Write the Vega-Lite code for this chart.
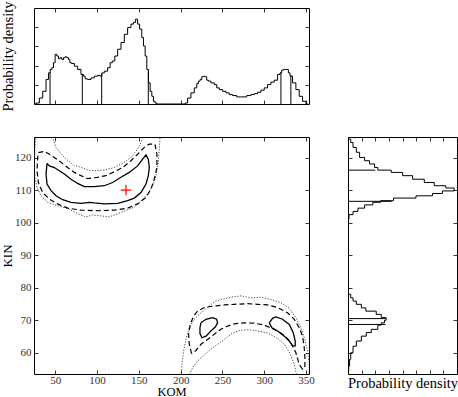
{
  "$schema": "https://vega.github.io/schema/vega-lite/v6.json",
  "padding": {"left": 0, "top": 0, "right": 1, "bottom": 0},
  "columns": 2,
  "bounds": "flush",
  "align": "each",
  "spacing": {"row": 33, "column": 39},
  "datasets": {
    "top": [
      {"x":24.9,"y":0},{"x":28.9,"y":0.05},{"x":32.9,"y":0.31},{"x":36.9,"y":0.66},{"x":40.9,"y":1.28},{"x":42.9,"y":1.62},{"x":44.9,"y":1.80},{"x":46.8,"y":1.89},{"x":48.8,"y":2.15},{"x":50.8,"y":2.59},{"x":52.8,"y":2.50},{"x":54.8,"y":2.36},{"x":56.8,"y":2.41},{"x":58.8,"y":2.32},{"x":60.8,"y":2.41},{"x":62.8,"y":2.46},{"x":64.8,"y":2.41},{"x":66.8,"y":2.32},{"x":68.0,"y":2.15},{"x":70.8,"y":2.11},{"x":74.8,"y":1.97},{"x":78.7,"y":1.80},{"x":82.7,"y":1.54},{"x":84.7,"y":1.45},{"x":86.7,"y":1.31},{"x":90.7,"y":1.28},{"x":94.7,"y":1.36},{"x":98.7,"y":1.45},{"x":102.7,"y":1.49},{"x":104.7,"y":1.45},{"x":106.7,"y":1.62},{"x":110.6,"y":1.71},{"x":114.6,"y":1.89},{"x":116.6,"y":2.15},{"x":119.8,"y":2.24},{"x":122.6,"y":2.50},{"x":126.6,"y":2.85},{"x":130.6,"y":3.20},{"x":134.6,"y":3.63},{"x":138.5,"y":3.98},{"x":142.5,"y":4.16},{"x":144.5,"y":4.25},{"x":147.7,"y":4.42},{"x":149.3,"y":4.16},{"x":152.5,"y":3.90},{"x":154.5,"y":3.46},{"x":156.5,"y":3.02},{"x":158.5,"y":2.50},{"x":160.5,"y":1.80},{"x":162.5,"y":1.10},{"x":164.5,"y":0.66},{"x":166.5,"y":0.40},{"x":168.4,"y":0.14},{"x":170.4,"y":0.05},{"x":172.4,"y":0},
      {"x":204.3,"y":0},{"x":206.3,"y":0.05},{"x":210.3,"y":0.31},{"x":214.3,"y":0.58},{"x":218.3,"y":0.84},{"x":220.3,"y":1.07},{"x":222.3,"y":1.19},{"x":224.3,"y":1.28},{"x":226.3,"y":1.42},{"x":228.3,"y":1.45},{"x":230.2,"y":1.42},{"x":232.2,"y":1.24},{"x":234.2,"y":1.19},{"x":238.2,"y":1.10},{"x":242.2,"y":1.01},{"x":244.2,"y":0.84},{"x":248.2,"y":0.75},{"x":252.2,"y":0.66},{"x":256.2,"y":0.58},{"x":260.1,"y":0.49},{"x":264.1,"y":0.44},{"x":270.1,"y":0.37},{"x":276.1,"y":0.37},{"x":282.1,"y":0.44},{"x":286.1,"y":0.49},{"x":290.0,"y":0.54},{"x":294.0,"y":0.61},{"x":298.0,"y":0.72},{"x":302.0,"y":0.84},{"x":306.0,"y":1.01},{"x":310.0,"y":1.14},{"x":314.0,"y":1.24},{"x":318.0,"y":1.54},{"x":319.9,"y":1.62},{"x":321.9,"y":1.76},{"x":323.9,"y":1.80},{"x":327.9,"y":1.80},{"x":329.9,"y":1.62},{"x":331.9,"y":1.45},{"x":335.9,"y":1.10},{"x":339.9,"y":0.75},{"x":343.9,"y":0.40},{"x":347.9,"y":0.14},{"x":351.9,"y":0.02}
    ],
    "topRules": [
      {"x":43.7,"y":1.65,"base":0},{"x":82.3,"y":1.54,"base":0},{"x":105.5,"y":1.55,"base":0},{"x":161.3,"y":1.75,"base":0},{"x":320.0,"y":1.65,"base":0},{"x":331.9,"y":1.5,"base":0}
    ],
    "right": [
      {"kin":126.4,"d":0.0},{"kin":125.75,"d":0.05},{"kin":124.7,"d":0.2},{"kin":123.2,"d":0.37},{"kin":121.7,"d":0.61},{"kin":120.1,"d":0.85},{"kin":119.1,"d":1.22},{"kin":118.1,"d":1.58},{"kin":117.0,"d":1.95},{"kin":116.2,"d":2.19},{"kin":115.5,"d":3.17},{"kin":114.5,"d":4.01},{"kin":113.4,"d":4.74},{"kin":112.4,"d":5.60},{"kin":111.4,"d":6.33},{"kin":110.7,"d":7.18},{"kin":109.8,"d":7.79},{"kin":109.0,"d":6.93},{"kin":108.3,"d":6.2},{"kin":107.6,"d":4.99},{"kin":106.8,"d":3.34},{"kin":106.3,"d":2.39},{"kin":105.5,"d":1.82},{"kin":104.5,"d":1.22},{"kin":103.5,"d":0.73},{"kin":102.5,"d":0.37},{"kin":101.1,"d":0.07},{"kin":100.1,"d":0},
      {"kin":78.0,"d":0},{"kin":76.9,"d":0.2},{"kin":75.9,"d":0.37},{"kin":74.9,"d":0.61},{"kin":73.8,"d":0.98},{"kin":72.8,"d":1.31},{"kin":71.8,"d":2.07},{"kin":70.8,"d":2.44},{"kin":70.0,"d":2.8},{"kin":69.2,"d":2.68},{"kin":68.5,"d":2.44},{"kin":67.2,"d":2.19},{"kin":66.2,"d":1.71},{"kin":65.1,"d":1.34},{"kin":63.6,"d":0.98},{"kin":62.0,"d":0.61},{"kin":60.0,"d":0.37},{"kin":58.0,"d":0.2},{"kin":55.9,"d":0.12},{"kin":54.4,"d":0.05},{"kin":53.5,"d":0.03}
    ],
    "rightRules": [
      {"kin":116.2,"d":2.0,"base":0},{"kin":106.6,"d":3.2,"base":0},{"kin":70.5,"d":2.75,"base":0},{"kin":68.7,"d":2.75,"base":0}
    ],
    "marker": [{"x":134.6,"y":110.06}],
    "contours": [
      {"c":"u1","lvl":"s","i":0,"x":40.1,"y":118.3},{"c":"u1","lvl":"s","i":1,"x":42.9,"y":117.5},{"c":"u1","lvl":"s","i":2,"x":48.8,"y":117.0},{"c":"u1","lvl":"s","i":3,"x":54.8,"y":116.0},{"c":"u1","lvl":"s","i":4,"x":60.8,"y":115.0},{"c":"u1","lvl":"s","i":5,"x":68.8,"y":113.4},{"c":"u1","lvl":"s","i":6,"x":76.7,"y":112.1},{"c":"u1","lvl":"s","i":7,"x":84.7,"y":111.1},{"c":"u1","lvl":"s","i":8,"x":96.7,"y":111.1},{"c":"u1","lvl":"s","i":9,"x":108.6,"y":111.4},{"c":"u1","lvl":"s","i":10,"x":118.6,"y":112.4},{"c":"u1","lvl":"s","i":11,"x":128.6,"y":114.0},{"c":"u1","lvl":"s","i":12,"x":138.5,"y":115.5},{"c":"u1","lvl":"s","i":13,"x":148.5,"y":117.5},{"c":"u1","lvl":"s","i":14,"x":154.5,"y":119.6},{"c":"u1","lvl":"s","i":15,"x":158.5,"y":120.9},{"c":"u1","lvl":"s","i":16,"x":161.3,"y":119.6},{"c":"u1","lvl":"s","i":17,"x":162.5,"y":117.0},{"c":"u1","lvl":"s","i":18,"x":161.3,"y":114.5},{"c":"u1","lvl":"s","i":19,"x":158.5,"y":111.9},{"c":"u1","lvl":"s","i":20,"x":152.5,"y":109.3},{"c":"u1","lvl":"s","i":21,"x":144.5,"y":107.6},{"c":"u1","lvl":"s","i":22,"x":136.6,"y":106.8},{"c":"u1","lvl":"s","i":23,"x":124.6,"y":106.0},{"c":"u1","lvl":"s","i":24,"x":108.6,"y":105.8},{"c":"u1","lvl":"s","i":25,"x":96.7,"y":106.1},{"c":"u1","lvl":"s","i":26,"x":90.7,"y":106.3},{"c":"u1","lvl":"s","i":27,"x":80.7,"y":106.0},{"c":"u1","lvl":"s","i":28,"x":68.8,"y":106.3},{"c":"u1","lvl":"s","i":29,"x":58.8,"y":107.1},{"c":"u1","lvl":"s","i":30,"x":50.8,"y":108.3},{"c":"u1","lvl":"s","i":31,"x":44.9,"y":109.9},{"c":"u1","lvl":"s","i":32,"x":40.1,"y":111.9},{"c":"u1","lvl":"s","i":33,"x":38.9,"y":115.0},{"c":"u1","lvl":"s","i":34,"x":40.1,"y":118.3},
      {"c":"u2","lvl":"d","i":0,"x":29.7,"y":121.6},{"c":"u2","lvl":"d","i":1,"x":36.9,"y":122.0},{"c":"u2","lvl":"d","i":2,"x":42.9,"y":121.1},{"c":"u2","lvl":"d","i":3,"x":48.8,"y":120.1},{"c":"u2","lvl":"d","i":4,"x":56.8,"y":118.6},{"c":"u2","lvl":"d","i":5,"x":64.8,"y":117.0},{"c":"u2","lvl":"d","i":6,"x":72.8,"y":115.5},{"c":"u2","lvl":"d","i":7,"x":80.7,"y":114.5},{"c":"u2","lvl":"d","i":8,"x":88.7,"y":113.6},{"c":"u2","lvl":"d","i":9,"x":100.7,"y":114.0},{"c":"u2","lvl":"d","i":10,"x":110.6,"y":114.5},{"c":"u2","lvl":"d","i":11,"x":120.6,"y":115.7},{"c":"u2","lvl":"d","i":12,"x":130.6,"y":117.0},{"c":"u2","lvl":"d","i":13,"x":140.5,"y":119.1},{"c":"u2","lvl":"d","i":14,"x":148.5,"y":121.1},{"c":"u2","lvl":"d","i":15,"x":156.5,"y":123.2},{"c":"u2","lvl":"d","i":16,"x":162.5,"y":124.2},{"c":"u2","lvl":"d","i":17,"x":169.2,"y":124.2},{"c":"u2","lvl":"d","i":18,"x":171.6,"y":121.1},{"c":"u2","lvl":"d","i":19,"x":171.6,"y":117.0},{"c":"u2","lvl":"d","i":20,"x":168.4,"y":113.4},{"c":"u2","lvl":"d","i":21,"x":164.5,"y":110.4},{"c":"u2","lvl":"d","i":22,"x":158.5,"y":107.8},{"c":"u2","lvl":"d","i":23,"x":148.5,"y":105.8},{"c":"u2","lvl":"d","i":24,"x":136.6,"y":104.5},{"c":"u2","lvl":"d","i":25,"x":120.6,"y":103.9},{"c":"u2","lvl":"d","i":26,"x":100.7,"y":103.7},{"c":"u2","lvl":"d","i":27,"x":80.7,"y":103.9},{"c":"u2","lvl":"d","i":28,"x":64.8,"y":104.5},{"c":"u2","lvl":"d","i":29,"x":52.8,"y":105.8},{"c":"u2","lvl":"d","i":30,"x":42.9,"y":107.3},{"c":"u2","lvl":"d","i":31,"x":34.9,"y":109.3},{"c":"u2","lvl":"d","i":32,"x":29.7,"y":112.4},{"c":"u2","lvl":"d","i":33,"x":28.1,"y":116.0},{"c":"u2","lvl":"d","i":34,"x":28.9,"y":120.1},{"c":"u2","lvl":"d","i":35,"x":29.7,"y":121.6},
      {"c":"u3","lvl":"o","i":0,"x":26.9,"y":128.5},{"c":"u3","lvl":"o","i":1,"x":26.9,"y":126.8},{"c":"u3","lvl":"o","i":2,"x":25.7,"y":123.2},{"c":"u3","lvl":"o","i":3,"x":24.9,"y":119.1},{"c":"u3","lvl":"o","i":4,"x":25.7,"y":113.9},{"c":"u3","lvl":"o","i":5,"x":28.1,"y":110.9},{"c":"u3","lvl":"o","i":6,"x":32.9,"y":108.3},{"c":"u3","lvl":"o","i":7,"x":40.9,"y":106.3},{"c":"u3","lvl":"o","i":8,"x":52.0,"y":105.3},{"c":"u3","lvl":"o","i":9,"x":64.8,"y":104.4},{"c":"u3","lvl":"o","i":10,"x":76.8,"y":102.8},{"c":"u3","lvl":"o","i":11,"x":86.7,"y":101.8},{"c":"u3","lvl":"o","i":12,"x":94.7,"y":102.4},{"c":"u3","lvl":"o","i":13,"x":104.7,"y":102.1},{"c":"u3","lvl":"o","i":14,"x":114.6,"y":101.8},{"c":"u3","lvl":"o","i":15,"x":124.6,"y":102.8},{"c":"u3","lvl":"o","i":16,"x":134.6,"y":103.8},{"c":"u3","lvl":"o","i":17,"x":144.5,"y":104.8},{"c":"u3","lvl":"o","i":18,"x":152.5,"y":106.7},{"c":"u3","lvl":"o","i":19,"x":160.5,"y":108.9},{"c":"u3","lvl":"o","i":20,"x":166.5,"y":111.3},{"c":"u3","lvl":"o","i":21,"x":170.4,"y":114.4},{"c":"u3","lvl":"o","i":22,"x":173.2,"y":118.5},{"c":"u3","lvl":"o","i":23,"x":174.4,"y":122.6},{"c":"u3","lvl":"o","i":24,"x":175.2,"y":125.7},{"c":"u3","lvl":"o","i":25,"x":175.2,"y":128.5},{"c":"u3","lvl":"o","i":26,"x":154.5,"y":128.5},{"c":"u3","lvl":"o","i":27,"x":154.5,"y":126.1},{"c":"u3","lvl":"o","i":28,"x":152.5,"y":124.7},{"c":"u3","lvl":"o","i":29,"x":148.5,"y":122.7},{"c":"u3","lvl":"o","i":30,"x":140.5,"y":120.1},{"c":"u3","lvl":"o","i":31,"x":132.6,"y":118.6},{"c":"u3","lvl":"o","i":32,"x":120.6,"y":117.0},{"c":"u3","lvl":"o","i":33,"x":108.6,"y":116.2},{"c":"u3","lvl":"o","i":34,"x":92.7,"y":116.0},{"c":"u3","lvl":"o","i":35,"x":80.7,"y":117.0},{"c":"u3","lvl":"o","i":36,"x":76.7,"y":117.5},{"c":"u3","lvl":"o","i":37,"x":72.8,"y":117.5},{"c":"u3","lvl":"o","i":38,"x":60.8,"y":120.1},{"c":"u3","lvl":"o","i":39,"x":50.8,"y":123.2},{"c":"u3","lvl":"o","i":40,"x":46.8,"y":126.3},{"c":"u3","lvl":"o","i":41,"x":46.8,"y":128.5},{"c":"u3","lvl":"o","i":42,"x":26.9,"y":128.5},
      {"c":"l1a","lvl":"s","i":0,"x":224.3,"y":69.2},{"c":"l1a","lvl":"s","i":1,"x":230.3,"y":70.3},{"c":"l1a","lvl":"s","i":2,"x":238.2,"y":70.8},{"c":"l1a","lvl":"s","i":3,"x":243.0,"y":70.3},{"c":"l1a","lvl":"s","i":4,"x":244.2,"y":69.2},{"c":"l1a","lvl":"s","i":5,"x":241.4,"y":67.9},{"c":"l1a","lvl":"s","i":6,"x":236.2,"y":66.7},{"c":"l1a","lvl":"s","i":7,"x":230.3,"y":65.1},{"c":"l1a","lvl":"s","i":8,"x":225.5,"y":64.6},{"c":"l1a","lvl":"s","i":9,"x":223.1,"y":65.9},{"c":"l1a","lvl":"s","i":10,"x":223.1,"y":67.7},{"c":"l1a","lvl":"s","i":11,"x":224.3,"y":69.2},
      {"c":"l1b","lvl":"s","i":0,"x":306.0,"y":69.2},{"c":"l1b","lvl":"s","i":1,"x":310.0,"y":70.6},{"c":"l1b","lvl":"s","i":2,"x":314.0,"y":71.0},{"c":"l1b","lvl":"s","i":3,"x":322.0,"y":70.3},{"c":"l1b","lvl":"s","i":4,"x":330.0,"y":68.7},{"c":"l1b","lvl":"s","i":5,"x":334.7,"y":66.2},{"c":"l1b","lvl":"s","i":6,"x":337.1,"y":63.6},{"c":"l1b","lvl":"s","i":7,"x":337.1,"y":62.1},{"c":"l1b","lvl":"s","i":8,"x":333.9,"y":62.1},{"c":"l1b","lvl":"s","i":9,"x":330.0,"y":63.6},{"c":"l1b","lvl":"s","i":10,"x":324.0,"y":65.1},{"c":"l1b","lvl":"s","i":11,"x":316.0,"y":66.7},{"c":"l1b","lvl":"s","i":12,"x":309.2,"y":67.7},{"c":"l1b","lvl":"s","i":13,"x":306.0,"y":69.2},
      {"c":"l2","lvl":"d","i":0,"x":213.1,"y":59.7},{"c":"l2","lvl":"d","i":1,"x":210.3,"y":62.6},{"c":"l2","lvl":"d","i":2,"x":209.5,"y":65.7},{"c":"l2","lvl":"d","i":3,"x":211.5,"y":68.7},{"c":"l2","lvl":"d","i":4,"x":215.5,"y":71.3},{"c":"l2","lvl":"d","i":5,"x":220.3,"y":72.8},{"c":"l2","lvl":"d","i":6,"x":228.3,"y":73.9},{"c":"l2","lvl":"d","i":7,"x":240.2,"y":74.4},{"c":"l2","lvl":"d","i":8,"x":252.2,"y":74.7},{"c":"l2","lvl":"d","i":9,"x":264.1,"y":74.9},{"c":"l2","lvl":"d","i":10,"x":280.1,"y":75.1},{"c":"l2","lvl":"d","i":11,"x":292.0,"y":74.9},{"c":"l2","lvl":"d","i":12,"x":304.0,"y":74.7},{"c":"l2","lvl":"d","i":13,"x":316.0,"y":73.9},{"c":"l2","lvl":"d","i":14,"x":327.9,"y":72.3},{"c":"l2","lvl":"d","i":15,"x":335.9,"y":70.3},{"c":"l2","lvl":"d","i":16,"x":341.9,"y":67.7},{"c":"l2","lvl":"d","i":17,"x":345.9,"y":65.1},{"c":"l2","lvl":"d","i":18,"x":347.9,"y":61.6},{"c":"l2","lvl":"d","i":19,"x":348.7,"y":58.5},{"c":"l2","lvl":"d","i":20,"x":348.7,"y":55.9},{"c":"l2","lvl":"d","i":21,"x":345.9,"y":54.9},{"c":"l2","lvl":"d","i":22,"x":341.9,"y":56.4},{"c":"l2","lvl":"d","i":23,"x":337.9,"y":60.0},{"c":"l2","lvl":"d","i":24,"x":331.9,"y":63.1},{"c":"l2","lvl":"d","i":25,"x":323.9,"y":65.4},{"c":"l2","lvl":"d","i":26,"x":312.0,"y":67.2},{"c":"l2","lvl":"d","i":27,"x":300.0,"y":68.5},{"c":"l2","lvl":"d","i":28,"x":288.1,"y":69.1},{"c":"l2","lvl":"d","i":29,"x":276.1,"y":69.2},{"c":"l2","lvl":"d","i":30,"x":264.1,"y":68.9},{"c":"l2","lvl":"d","i":31,"x":256.2,"y":68.2},{"c":"l2","lvl":"d","i":32,"x":248.2,"y":67.2},{"c":"l2","lvl":"d","i":33,"x":240.2,"y":65.7},{"c":"l2","lvl":"d","i":34,"x":232.2,"y":64.1},{"c":"l2","lvl":"d","i":35,"x":224.3,"y":62.6},{"c":"l2","lvl":"d","i":36,"x":218.3,"y":60.7},{"c":"l2","lvl":"d","i":37,"x":213.1,"y":59.7},
      {"c":"l3","lvl":"o","i":0,"x":200.3,"y":52.0},{"c":"l3","lvl":"o","i":1,"x":201.5,"y":56.4},{"c":"l3","lvl":"o","i":2,"x":203.5,"y":60.5},{"c":"l3","lvl":"o","i":3,"x":206.3,"y":64.1},{"c":"l3","lvl":"o","i":4,"x":210.3,"y":67.7},{"c":"l3","lvl":"o","i":5,"x":216.3,"y":70.3},{"c":"l3","lvl":"o","i":6,"x":224.3,"y":72.3},{"c":"l3","lvl":"o","i":7,"x":232.2,"y":73.9},{"c":"l3","lvl":"o","i":8,"x":240.2,"y":75.7},{"c":"l3","lvl":"o","i":9,"x":248.2,"y":76.4},{"c":"l3","lvl":"o","i":10,"x":260.1,"y":77.1},{"c":"l3","lvl":"o","i":11,"x":272.1,"y":77.5},{"c":"l3","lvl":"o","i":12,"x":284.1,"y":76.9},{"c":"l3","lvl":"o","i":13,"x":296.1,"y":77.1},{"c":"l3","lvl":"o","i":14,"x":308.0,"y":76.4},{"c":"l3","lvl":"o","i":15,"x":319.9,"y":75.4},{"c":"l3","lvl":"o","i":16,"x":329.9,"y":73.7},{"c":"l3","lvl":"o","i":17,"x":337.9,"y":70.8},{"c":"l3","lvl":"o","i":18,"x":343.9,"y":67.7},{"c":"l3","lvl":"o","i":19,"x":348.7,"y":64.1},{"c":"l3","lvl":"o","i":20,"x":351.9,"y":60.5},{"c":"l3","lvl":"o","i":21,"x":353.9,"y":56.4},{"c":"l3","lvl":"o","i":22,"x":353.9,"y":52.0},{"c":"l3","lvl":"o","i":23,"x":339.9,"y":52.0},{"c":"l3","lvl":"o","i":24,"x":335.9,"y":56.4},{"c":"l3","lvl":"o","i":25,"x":331.1,"y":59.7},{"c":"l3","lvl":"o","i":26,"x":324.7,"y":62.4},{"c":"l3","lvl":"o","i":27,"x":315.9,"y":64.4},{"c":"l3","lvl":"o","i":28,"x":304.0,"y":66.1},{"c":"l3","lvl":"o","i":29,"x":292.0,"y":66.7},{"c":"l3","lvl":"o","i":30,"x":280.1,"y":67.1},{"c":"l3","lvl":"o","i":31,"x":268.1,"y":66.7},{"c":"l3","lvl":"o","i":32,"x":260.1,"y":65.7},{"c":"l3","lvl":"o","i":33,"x":252.2,"y":64.1},{"c":"l3","lvl":"o","i":34,"x":244.2,"y":62.6},{"c":"l3","lvl":"o","i":35,"x":236.2,"y":61.1},{"c":"l3","lvl":"o","i":36,"x":228.3,"y":59.3},{"c":"l3","lvl":"o","i":37,"x":220.3,"y":57.5},{"c":"l3","lvl":"o","i":38,"x":214.3,"y":55.4},{"c":"l3","lvl":"o","i":39,"x":208.3,"y":52.0},{"c":"l3","lvl":"o","i":40,"x":200.3,"y":52.0}
    ]
  },
  "concat": [
    {
      "width": 275, "height": 96,
      "layer": [
        {
          "data": {"name": "top"},
          "mark": {"type": "line", "interpolate": "step", "color": "#000", "strokeWidth": 1, "clip": true},
          "encoding": {
            "x": {"field": "x", "type": "quantitative", "scale": {"domain": [24.5, 353.6], "nice": false, "zero": false},
                  "axis": {"orient": "bottom", "labels": false, "title": null, "values": [50,100,150,200,250,300,350]}},
            "y": {"field": "y", "type": "quantitative", "scale": {"domain": [0, 5], "nice": false},
                  "axis": {"orient": "left", "labels": false, "title": "Probability density", "titleFontSize": 14.5, "titlePadding": 18, "values": [1,2,3,4]}}
          }
        },
        {
          "data": {"name": "topRules"},
          "mark": {"type": "rule", "color": "#000", "strokeWidth": 1},
          "encoding": {
            "x": {"field": "x", "type": "quantitative", "axis": null},
            "y": {"field": "base", "type": "quantitative", "axis": null},
            "y2": {"field": "y"}
          }
        },
        {
          "data": {"name": "top"},
          "mark": {"type": "point", "opacity": 0},
          "encoding": {
            "x": {"field": "x", "type": "quantitative", "axis": {"orient": "top", "labels": false, "title": null, "values": [50,100,150,200,250,300,350]}},
            "y": {"field": "y", "type": "quantitative", "axis": {"orient": "right", "labels": false, "title": null, "values": [1,2,3,4]}}
          }
        }
      ],
      "resolve": {"axis": {"x": "independent", "y": "independent"}}
    },
    {
      "width": 109, "height": 96,
      "data": {"values": [{"a": 1}]},
      "mark": {"type": "point", "opacity": 0},
      "encoding": {"x": {"field": "a", "type": "quantitative", "axis": null}, "y": {"field": "a", "type": "quantitative", "axis": null}},
      "view": {"stroke": null}
    },
    {
      "width": 275, "height": 237,
      "layer": [
        {
          "data": {"name": "contours"},
          "transform": [{"filter": "datum.lvl === 'o'"}],
          "mark": {"type": "line", "clip": true, "strokeWidth": 0.9, "strokeDash": [1.2, 1.6], "color": "#333"},
          "encoding": {
            "x": {"field": "x", "type": "quantitative", "scale": {"domain": [24.5, 353.6], "nice": false, "zero": false},
                  "axis": {"orient": "bottom", "title": "KOM", "titleFontSize": 12.5, "values": [50,100,150,200,250,300,350], "labelPadding": 4, "titlePadding": 0}},
            "y": {"field": "y", "type": "quantitative", "scale": {"domain": [53.45, 126.4], "nice": false, "zero": false},
                  "axis": {"orient": "left", "title": "KIN", "values": [60,70,80,90,100,110,120], "titlePadding": 0}},
            "detail": {"field": "c", "type": "nominal"},
            "order": {"field": "i", "type": "quantitative"}
          }
        },
        {
          "data": {"name": "contours"},
          "transform": [{"filter": "datum.lvl === 'd'"}],
          "mark": {"type": "line", "clip": true, "strokeWidth": 1.2, "strokeDash": [5, 3], "color": "#000"},
          "encoding": {
            "x": {"field": "x", "type": "quantitative", "axis": null},
            "y": {"field": "y", "type": "quantitative", "axis": null},
            "detail": {"field": "c", "type": "nominal"},
            "order": {"field": "i", "type": "quantitative"}
          }
        },
        {
          "data": {"name": "contours"},
          "transform": [{"filter": "datum.lvl === 's'"}],
          "mark": {"type": "line", "clip": true, "strokeWidth": 1.3, "color": "#000"},
          "encoding": {
            "x": {"field": "x", "type": "quantitative", "axis": null},
            "y": {"field": "y", "type": "quantitative", "axis": null},
            "detail": {"field": "c", "type": "nominal"},
            "order": {"field": "i", "type": "quantitative"}
          }
        },
        {
          "data": {"name": "marker"},
          "mark": {"type": "point", "shape": "M-1,0L1,0M0,-1L0,1", "size": 110, "filled": false, "color": "#ff0000", "strokeWidth": 1.2, "opacity": 1},
          "encoding": {
            "x": {"field": "x", "type": "quantitative", "axis": null},
            "y": {"field": "y", "type": "quantitative", "axis": null}
          }
        },
        {
          "data": {"name": "contours"},
          "mark": {"type": "point", "opacity": 0},
          "encoding": {
            "x": {"field": "x", "type": "quantitative", "axis": {"orient": "top", "labels": false, "title": null, "values": [50,100,150,200,250,300,350]}},
            "y": {"field": "y", "type": "quantitative", "axis": {"orient": "right", "labels": false, "title": null, "values": [60,70,80,90,100,110,120]}}
          }
        }
      ],
      "resolve": {"axis": {"x": "independent", "y": "independent"}}
    },
    {
      "width": 109, "height": 237,
      "layer": [
        {
          "data": {"name": "right"},
          "mark": {"type": "line", "interpolate": "step-before", "color": "#000", "strokeWidth": 1, "clip": true},
          "encoding": {
            "x": {"field": "d", "type": "quantitative", "scale": {"domain": [0, 8], "nice": false},
                  "axis": {"orient": "bottom", "labels": false, "title": "Probability density", "titleFontSize": 14.5, "titlePadding": 2, "values": [1,2,3,4,5,6,7]}},
            "y": {"field": "kin", "type": "quantitative", "scale": {"domain": [53.45, 126.4], "nice": false, "zero": false},
                  "axis": {"orient": "left", "labels": false, "title": null, "values": [60,70,80,90,100,110,120]}},
            "order": {"field": "kin", "type": "quantitative"}
          }
        },
        {
          "data": {"name": "rightRules"},
          "mark": {"type": "rule", "color": "#000", "strokeWidth": 1},
          "encoding": {
            "y": {"field": "kin", "type": "quantitative", "axis": null},
            "x": {"field": "base", "type": "quantitative", "axis": null},
            "x2": {"field": "d"}
          }
        },
        {
          "data": {"name": "right"},
          "mark": {"type": "point", "opacity": 0},
          "encoding": {
            "x": {"field": "d", "type": "quantitative", "axis": {"orient": "top", "labels": false, "title": null, "values": [1,2,3,4,5,6,7]}},
            "y": {"field": "kin", "type": "quantitative", "axis": {"orient": "right", "labels": false, "title": null, "values": [60,70,80,90,100,110,120]}}
          }
        }
      ],
      "resolve": {"axis": {"x": "independent", "y": "independent"}}
    }
  ],
  "config": {
    "font": "Liberation Serif",
    "view": {"stroke": "#000", "strokeWidth": 1},
    "axis": {
      "grid": false, "domain": false,
      "tickSize": -4, "tickColor": "#000", "tickWidth": 0.8,
      "labelFont": "Liberation Serif", "labelFontSize": 11, "labelColor": "#333", "labelPadding": 7,
      "titleFont": "Liberation Serif", "titleFontSize": 13, "titleFontWeight": "normal", "titleColor": "#000"
    }
  }
}
